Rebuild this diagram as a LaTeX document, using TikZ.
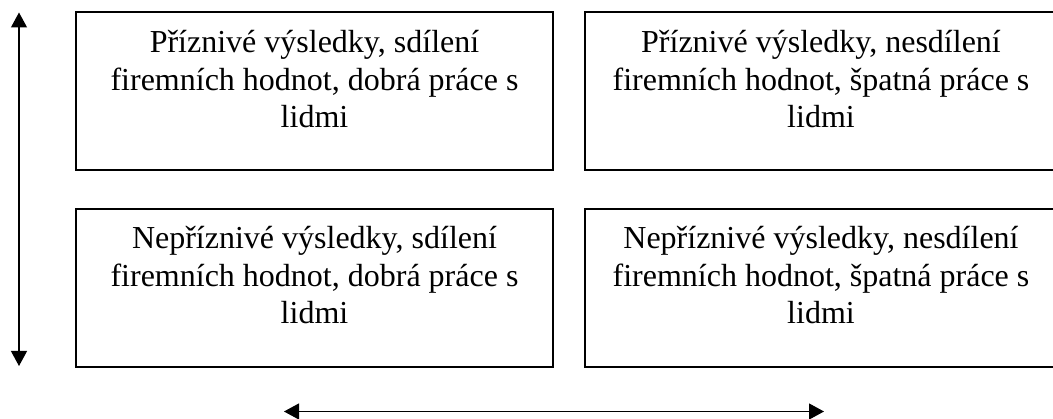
\documentclass[tikz,border=0pt]{standalone}
\usepackage{fontspec}
\setmainfont{Liberation Serif}
\usetikzlibrary{arrows.meta}
\newcommand{\topstrut}{\rule{0pt}{33pt}}
\begin{document}
\begin{tikzpicture}[x=1pt,y=1pt,
  quad/.style={draw=black,line width=1.6pt,rectangle,minimum height=158pt,inner sep=0pt},
  quadL/.style={quad,minimum width=477pt},
  quadR/.style={quad,minimum width=472pt},
  txt/.style={font=\fontsize{32}{37.5}\selectfont,align=center,inner sep=0pt,anchor=north},
  axis/.style={line width=1.2pt,{Triangle[length=15pt,width=16pt]}-{Triangle[length=15pt,width=16pt]}}]
\useasboundingbox (0,0) rectangle (1053,-419);
\node[quadL] (tl) at (314.5,-91) {};
\node[quadR] (tr) at (821,-91) {};
\node[quadL] (bl) at (314.5,-288) {};
\node[quadR] (br) at (821,-288) {};
\node[txt] (tlt) at ([yshift=-8.5pt]tl.north) {\topstrut Příznivé výsledky, sdílení\\firemních hodnot, dobrá práce s\\lidmi};
\node[txt] (trt) at ([yshift=-8.5pt]tr.north) {\topstrut Příznivé výsledky, nesdílení\\firemních hodnot, špatná práce s\\lidmi};
\node[txt] (blt) at ([yshift=-7.5pt]bl.north) {\topstrut Nepříznivé výsledky, sdílení\\firemních hodnot, dobrá práce s\\lidmi};
\node[txt] (brt) at ([yshift=-7.5pt]br.north) {\topstrut Nepříznivé výsledky, nesdílení\\firemních hodnot, špatná práce s\\lidmi};
\coordinate (vtop) at (19,-12.5);
\coordinate (vbot) at (19,-366);
\coordinate (hl) at (284,-411.5);
\coordinate (hr) at (824,-411.5);
\draw[axis] (vtop) -- (vbot);
\draw[axis] (hl) -- (hr);
\end{tikzpicture}
\end{document}
